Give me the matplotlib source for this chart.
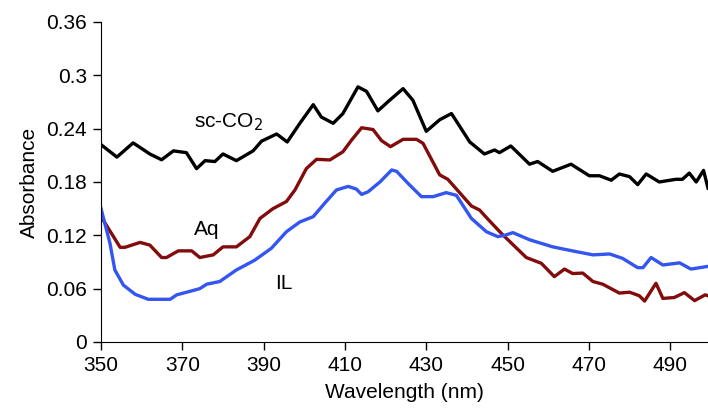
import numpy as np
import matplotlib.pyplot as plt

plt.rcParams['font.family'] = ['Liberation Sans', 'DejaVu Sans']

# sc-CO2 spectrum
sc_nm = [350, 353.9, 357.9, 362, 364.9, 367.8, 371, 373.5, 375.6, 378, 380, 383.3,
         387.4, 389.5, 393.2, 395.8, 398.9, 402.2, 404.2, 407.1, 409.5, 413.2, 415.3,
         418.1, 421, 424.3, 426.7, 430, 433.3, 436.2, 440.7, 444.3, 446.8, 448, 450.8,
         455.4, 457.4, 461.1, 465.6, 470.1, 472.6, 475.5, 477.5, 480, 482, 484.1,
         487.3, 491.4, 493, 494.7, 496.4, 498.2, 499.3]
sc_abs = [0.222, 0.208, 0.224, 0.2115, 0.205, 0.215, 0.213, 0.195, 0.204, 0.203, 0.2115,
          0.204, 0.215, 0.226, 0.234, 0.225, 0.246, 0.267, 0.253, 0.246, 0.257, 0.287,
          0.282, 0.260, 0.272, 0.285, 0.272, 0.237, 0.250, 0.257, 0.225, 0.2115, 0.216,
          0.213, 0.2205, 0.200, 0.203, 0.192, 0.200, 0.187, 0.187, 0.182, 0.189, 0.186,
          0.177, 0.189, 0.180, 0.183, 0.183, 0.190, 0.180, 0.193, 0.173]

# aqueous spectrum
aq_nm = [350, 354.7, 355.9, 359.6, 362, 364.9, 366.1, 369, 372.3, 374.3, 377.6, 380,
         383.3, 386.6, 389.1, 392.3, 395.6, 397.7, 400.5, 403, 406.3, 409.5, 411.6,
         414.1, 416.9, 419, 421.2, 424.3, 427.6, 429.2, 433.3, 435.3, 441.1, 443.1,
         445.2, 448.5, 454.6, 458.3, 461.5, 464, 466, 468.5, 471, 473.4, 477.5, 480,
         482.4, 483.7, 486.5, 488.2, 491, 493.5, 496, 498.6, 499.3]
aq_abs = [0.141, 0.1065, 0.1065, 0.112, 0.109, 0.095, 0.095, 0.1025, 0.1025, 0.095,
          0.098, 0.107, 0.107, 0.1185, 0.139, 0.150, 0.158, 0.171, 0.195, 0.2055,
          0.2048, 0.214, 0.227, 0.241, 0.239, 0.2265, 0.2197, 0.228, 0.228, 0.2235,
          0.188, 0.183, 0.153, 0.1485, 0.138, 0.122, 0.095, 0.0885, 0.0735, 0.082,
          0.077, 0.0775, 0.068, 0.065, 0.055, 0.056, 0.052, 0.046, 0.066, 0.049,
          0.050, 0.0555, 0.0465, 0.053, 0.052]

# ionic liquid spectrum
il_nm = [350, 352.2, 353.4, 355.5, 358.4, 361.6, 367, 368.6, 371.9, 374.3, 376, 379.2,
         383.3, 387.8, 391.9, 395.6, 398.9, 402.2, 405, 407.9, 410.8, 412.8, 414.1,
         415.7, 418.6, 421.5, 422.7, 425.5, 428.8, 431.7, 434.9, 437.4, 441.1, 444.8,
         447.6, 449.3, 451.3, 455.4, 461.1, 466.9, 471, 475.1, 478.3, 482, 483.3,
         485.3, 488.2, 492.3, 495.1, 498.8, 499.3]
il_abs = [0.150, 0.111, 0.081, 0.064, 0.0536, 0.048, 0.048, 0.053, 0.057, 0.060, 0.065,
          0.068, 0.081, 0.092, 0.1054, 0.124, 0.135, 0.141, 0.156, 0.171, 0.175, 0.172,
          0.166, 0.169, 0.180, 0.1935, 0.192, 0.1785, 0.1635, 0.1635, 0.168, 0.165,
          0.139, 0.124, 0.1185, 0.120, 0.123, 0.115, 0.107, 0.1016, 0.098, 0.099,
          0.094, 0.0836, 0.0836, 0.095, 0.0866, 0.089, 0.082, 0.0847, 0.085]

x_ticks = [350, 370, 390, 410, 430, 450, 470, 490]
y_ticks = [0, 0.06, 0.12, 0.18, 0.24, 0.3, 0.36]
y_labels = ['0', '0.06', '0.12', '0.18', '0.24', '0.3', '0.36']

fig = plt.figure(figsize=(7.08, 4.15), dpi=100)
ax = fig.add_axes([0.1427, 0.176, 0.8573, 0.771])

ax.plot(sc_nm, sc_abs, color='black', lw=2.4, solid_joinstyle='round')
ax.plot(aq_nm, aq_abs, color='#820c0c', lw=2.4, solid_joinstyle='round')
ax.plot(il_nm, il_abs, color='#3355f0', lw=2.4, solid_joinstyle='round')

ax.text(381.5, 0.2475, 'sc-CO$_2$', fontsize=15, ha='center', va='center')
ax.text(376, 0.126, 'Aq', fontsize=15, ha='center', va='center')
ax.text(395, 0.066, 'IL', fontsize=15, ha='center', va='center')

ax.set_xlim(350, 499.3)
ax.set_ylim(0, 0.36)
ax.set_xticks(x_ticks)
ax.set_yticks(y_ticks)
ax.set_yticklabels(y_labels)
ax.tick_params(labelsize=15, direction='out', length=6, width=1, pad=4)
ax.spines['top'].set_visible(False)
ax.spines['right'].set_visible(False)
ax.set_xlabel('Wavelength (nm)', fontsize=15, labelpad=6)
ax.set_ylabel('Absorbance', fontsize=15, labelpad=5)

fig.savefig('out.png', dpi=100)
